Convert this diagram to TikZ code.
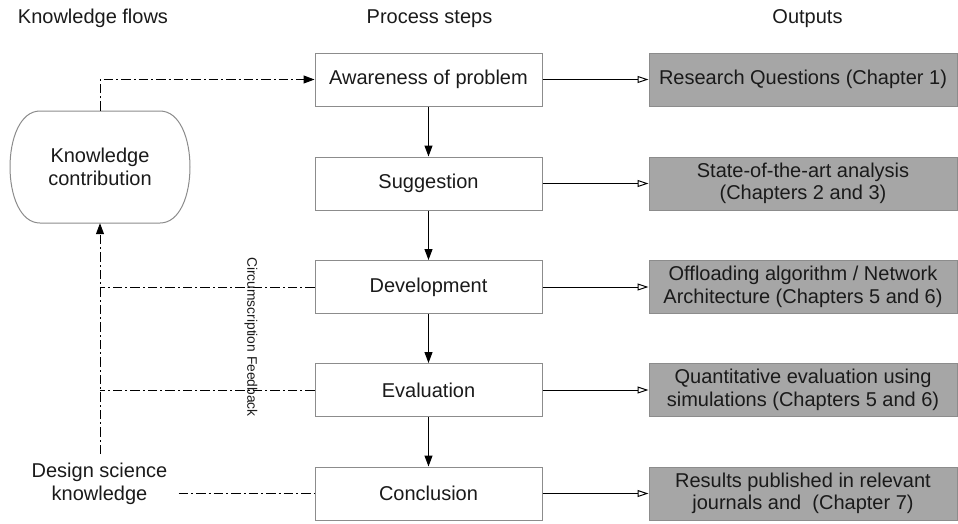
\documentclass[tikz,border=0pt]{standalone}
\usepackage{fontspec}
\setmainfont{Liberation Sans}
\usetikzlibrary{arrows.meta}
\definecolor{boxline}{HTML}{8C8C8C}
\definecolor{outfill}{HTML}{A6A6A6}
\definecolor{ink}{HTML}{1A1A1A}
\tikzset{
  txt/.style={font=\fontsize{20}{22.5}\selectfont, align=center, text=ink},
  stepbox/.style={txt, draw=boxline, line width=1pt, fill=white,
    minimum width=227pt, minimum height=53pt, inner sep=0pt},
  outbox/.style={txt, draw=boxline, line width=1pt, fill=outfill,
    minimum width=308pt, minimum height=53pt, inner sep=0pt},
  flowline/.style={line width=1pt, dash pattern=on 9.5pt off 3pt on 2pt off 3pt},
  solidtip/.style={-{Triangle[length=11pt,width=8pt]}},
  opentip/.style={-{Triangle[open,length=11pt,width=7pt,fill=white]}},
}
\begin{document}
\begin{tikzpicture}[x=1pt,y=-1pt]
\useasboundingbox (0,0) rectangle (958,523);

% column headings
\node[txt, anchor=base] (hflow) at (93,23.5) {Knowledge flows};
\node[txt, anchor=base] (hstep) at (429.5,23.5) {Process steps};
\node[txt, anchor=base] (hout)  at (807.5,23.5) {Outputs};

% process steps
\node[stepbox] (p1) at (428.5,79.5) {Awareness of problem};
\node[stepbox] (p2) at (428.5,183.5) {Suggestion};
\node[stepbox] (p3) at (428.5,287) {Development};
\node[stepbox] (p4) at (428.5,390) {Evaluation};
\node[stepbox] (p5) at (428.5,493.5) {Conclusion};

% outputs
\node[outbox] (o1) at (803,79.5) {Research Questions (Chapter 1)};
\node[outbox] (o2) at (803,183.5) {State-of-the-art analysis\\(Chapters 2 and 3)};
\node[outbox] (o3) at (803,287) {Offloading algorithm / Network\\Architecture (Chapters 5 and 6)};
\node[outbox] (o4) at (803,390) {Quantitative evaluation using\\simulations (Chapters 5 and 6)};
\node[outbox] (o5) at (803,493.5) {Results published in relevant\\journals and\ \ (Chapter 7)};

% knowledge contribution (flat top and bottom, bulging sides)
\draw[boxline, line width=1pt, fill=white]
  (40,111) -- (160,111) .. controls (200,111) and (200,223) .. (160,223)
  -- (40,223) .. controls (0,223) and (0,111) .. (40,111);
\node[txt, minimum width=180pt, minimum height=112pt, inner sep=0pt] (kc) at (100,167)
  {Knowledge\\contribution};

% design science knowledge
\node[txt, inner xsep=11pt, inner ysep=9pt] (dsk) at (99.5,484) {Design science\\knowledge};

% process flow
\foreach \a/\b in {p1/p2,p2/p3,p3/p4,p4/p5}
  \draw[line width=1pt, solidtip] (\a.south) -- (\b.north);

% step outputs
\foreach \i in {1,...,5}
  \draw[line width=1pt, opentip] (p\i.east) -- (o\i.west);

% knowledge flows
\draw[flowline, solidtip] (kc.north) |- (p1.west);
\draw[flowline, solidtip] (kc.south |- dsk.north) -- (kc.south);
\draw[flowline] (p3.west) -- (p3.west -| kc.south);
\draw[flowline] (p4.west) -- (p4.west -| kc.south);
\draw[flowline] (dsk.east |- p5.west) -- (p5.west);

% feedback label
\node[font=\fontsize{13.8}{16}\selectfont, text=ink, rotate=-90] (circ) at (251,337)
  {Circumscription Feedback};
\end{tikzpicture}
\end{document}
